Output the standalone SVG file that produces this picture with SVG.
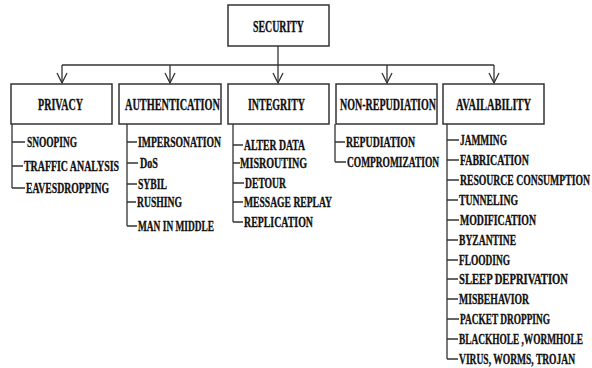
<svg xmlns="http://www.w3.org/2000/svg" width="592" height="368" viewBox="0 0 592 368">
<style>
.box{fill:#fff;stroke:#333;stroke-width:1.5}
.ln{fill:none;stroke:#333;stroke-width:1.3}
.t{font-family:"Liberation Serif","Times New Roman",serif;font-weight:bold;fill:#111;stroke:#111;stroke-width:0.35;font-size:16.5px}
.s{font-family:"Liberation Serif","Times New Roman",serif;font-weight:bold;fill:#111;stroke:#111;stroke-width:0.35;font-size:15.5px}
</style>
<defs>
<marker id="arr" viewBox="0 0 12 12" refX="11" refY="6" markerWidth="12" markerHeight="12" markerUnits="userSpaceOnUse" orient="auto">
<path d="M1,1 L11,6 L1,11" fill="none" stroke="#333" stroke-width="1.3"/>
</marker>
</defs>
<rect width="592" height="368" fill="#fff"/>
<g id="connectors">
<path class="ln" d="M278,46 V83" marker-end="url(#arr)"/>
<path class="ln" d="M62,65 H494"/>
<path class="ln" d="M62,65 V83" marker-end="url(#arr)"/>
<path class="ln" d="M170,65 V83" marker-end="url(#arr)"/>
<path class="ln" d="M387,65 V83" marker-end="url(#arr)"/>
<path class="ln" d="M494,65 V83" marker-end="url(#arr)"/>
<path class="ln" d="M12,124 V188 M12,142 H25 M12,166 H23 M12,188 H25"/>
<path class="ln" d="M127,124 V226 M127,142 H137 M127,163 H138 M127,184 H137 M127,202 H136 M127,226 H137"/>
<path class="ln" d="M233,124 V222 M233,145 H243 M233,163 H240 M233,183 H244 M233,202 H243 M233,222 H243"/>
<path class="ln" d="M335,124 V162 M335,142 H345 M335,162 H346"/>
<path class="ln" d="M447,124 V359 M447,140 H459 M447,160 H459 M447,180 H459 M447,200 H458 M447,220 H459 M447,240 H458 M447,260 H458 M447,279 H458 M447,299 H458 M447,319 H459 M447,339 H458 M447,359 H458"/>
</g>
<g id="security">
<rect class="box" x="228" y="5" width="101" height="41"/>
<text class="t" transform="translate(253,31.5) scale(0.61,1)" textLength="83.6" lengthAdjust="spacingAndGlyphs">SECURITY</text>
</g>
<g id="privacy">
<rect class="box" x="11" y="84" width="101" height="40"/>
<text class="t" transform="translate(38,109.5) scale(0.61,1)" textLength="73.8" lengthAdjust="spacingAndGlyphs">PRIVACY</text>
</g>
<g id="authentication">
<rect class="box" x="119" y="84" width="102" height="40"/>
<text class="t" transform="translate(125,109.5) scale(0.61,1)" textLength="155.7" lengthAdjust="spacingAndGlyphs">AUTHENTICATION</text>
</g>
<g id="integrity">
<rect class="box" x="228" y="84" width="101" height="40"/>
<text class="t" transform="translate(248,109.5) scale(0.61,1)" textLength="93.4" lengthAdjust="spacingAndGlyphs">INTEGRITY</text>
</g>
<g id="non-repudiation">
<rect class="box" x="336" y="84" width="101" height="40"/>
<text class="t" transform="translate(340,109.5) scale(0.61,1)" textLength="157.4" lengthAdjust="spacingAndGlyphs">NON-REPUDIATION</text>
</g>
<g id="availability">
<rect class="box" x="443" y="84" width="101" height="40"/>
<text class="t" transform="translate(456,109.5) scale(0.61,1)" textLength="123" lengthAdjust="spacingAndGlyphs">AVAILABILITY</text>
</g>
<g id="privacy-items">
<text class="s" transform="translate(27,147) scale(0.64,1)" textLength="78.1" lengthAdjust="spacingAndGlyphs">SNOOPING</text>
<text class="s" transform="translate(24,171) scale(0.64,1)" textLength="148.4" lengthAdjust="spacingAndGlyphs">TRAFFIC ANALYSIS</text>
<text class="s" transform="translate(26,193) scale(0.64,1)" textLength="129.7" lengthAdjust="spacingAndGlyphs">EAVESDROPPING</text>
</g>
<g id="authentication-items">
<text class="s" transform="translate(138,147) scale(0.64,1)" textLength="129.7" lengthAdjust="spacingAndGlyphs">IMPERSONATION</text>
<text class="s" transform="translate(140,168) scale(0.64,1)" textLength="28.1" lengthAdjust="spacingAndGlyphs">DoS</text>
<text class="s" transform="translate(138,189) scale(0.64,1)" textLength="45.3" lengthAdjust="spacingAndGlyphs">SYBIL</text>
<text class="s" transform="translate(137,207) scale(0.64,1)" textLength="70.3" lengthAdjust="spacingAndGlyphs">RUSHING</text>
<text class="s" transform="translate(138,231) scale(0.64,1)" textLength="118.8" lengthAdjust="spacingAndGlyphs">MAN IN MIDDLE</text>
</g>
<g id="integrity-items">
<text class="s" transform="translate(244,150) scale(0.64,1)" textLength="95.3" lengthAdjust="spacingAndGlyphs">ALTER DATA</text>
<text class="s" transform="translate(240,168) scale(0.64,1)" textLength="104.7" lengthAdjust="spacingAndGlyphs">MISROUTING</text>
<text class="s" transform="translate(245,188) scale(0.64,1)" textLength="64.1" lengthAdjust="spacingAndGlyphs">DETOUR</text>
<text class="s" transform="translate(244,207) scale(0.64,1)" textLength="137.5" lengthAdjust="spacingAndGlyphs">MESSAGE REPLAY</text>
<text class="s" transform="translate(244,227) scale(0.64,1)" textLength="107.8" lengthAdjust="spacingAndGlyphs">REPLICATION</text>
</g>
<g id="non-repudiation-items">
<text class="s" transform="translate(346,147) scale(0.64,1)" textLength="107.8" lengthAdjust="spacingAndGlyphs">REPUDIATION</text>
<text class="s" transform="translate(347,167) scale(0.64,1)" textLength="143.8" lengthAdjust="spacingAndGlyphs">COMPROMIZATION</text>
</g>
<g id="availability-items">
<text class="s" transform="translate(460,145) scale(0.64,1)" textLength="73.4" lengthAdjust="spacingAndGlyphs">JAMMING</text>
<text class="s" transform="translate(460,165) scale(0.64,1)" textLength="107.8" lengthAdjust="spacingAndGlyphs">FABRICATION</text>
<text class="s" transform="translate(460,185) scale(0.64,1)" textLength="203" lengthAdjust="spacingAndGlyphs">RESOURCE CONSUMPTION</text>
<text class="s" transform="translate(459,205) scale(0.64,1)" textLength="92.2" lengthAdjust="spacingAndGlyphs">TUNNELING</text>
<text class="s" transform="translate(460,225) scale(0.64,1)" textLength="118.8" lengthAdjust="spacingAndGlyphs">MODIFICATION</text>
<text class="s" transform="translate(459,245) scale(0.64,1)" textLength="89.1" lengthAdjust="spacingAndGlyphs">BYZANTINE</text>
<text class="s" transform="translate(459,265) scale(0.64,1)" textLength="79.7" lengthAdjust="spacingAndGlyphs">FLOODING</text>
<text class="s" transform="translate(459,284) scale(0.64,1)" textLength="170.3" lengthAdjust="spacingAndGlyphs">SLEEP DEPRIVATION</text>
<text class="s" transform="translate(459,304) scale(0.64,1)" textLength="109.4" lengthAdjust="spacingAndGlyphs">MISBEHAVIOR</text>
<text class="s" transform="translate(460,324) scale(0.64,1)" textLength="140.6" lengthAdjust="spacingAndGlyphs">PACKET DROPPING</text>
<text class="s" transform="translate(459,344) scale(0.64,1)" textLength="193.8" lengthAdjust="spacingAndGlyphs">BLACKHOLE ,WORMHOLE</text>
<text class="s" transform="translate(459,364) scale(0.64,1)" textLength="181.3" lengthAdjust="spacingAndGlyphs">VIRUS, WORMS, TROJAN</text>
</g>
</svg>
